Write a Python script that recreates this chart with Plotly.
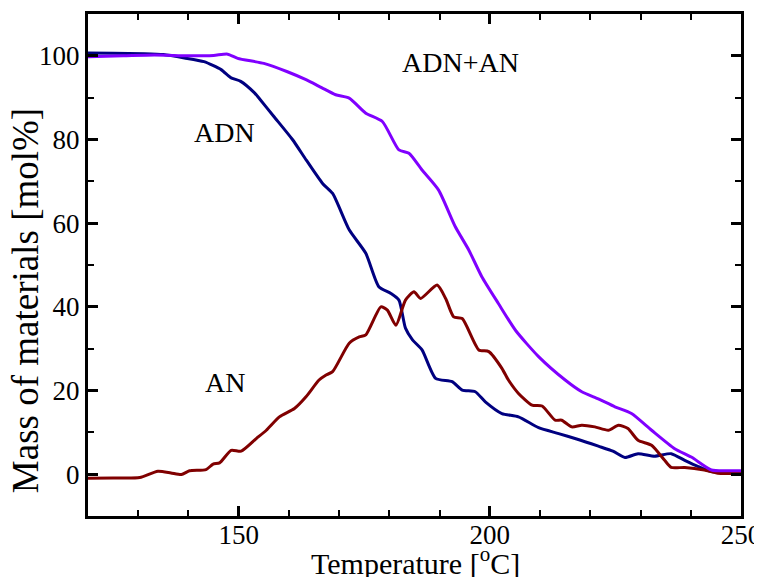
import plotly.graph_objects as go

# ADN
adn_t = [120, 125, 131.2, 135, 139.2, 143.1, 146.5, 148.4, 150.4, 153.1, 154.1, 157, 160.7, 163.5, 166.7, 168.7, 172, 175.3,
         177.9, 180.3, 181.9, 183.2, 184.6, 186.5, 189.2, 192.5, 194.5, 197.1, 199.1, 202.4, 205.7, 209.7, 213.7,
         217.6, 221.6, 224.5, 226.9, 229.5, 232.8, 236.1, 238.8, 241.5, 244.1, 247, 250]
adn_v = [100.7, 100.6, 100.5, 100.3, 99.5, 98.6, 96.7, 94.8, 93.9, 91.2, 89.8, 85.5, 80.0, 75.0, 69.5, 67.1, 58.4, 52.8,
         44.8, 43.2, 41.6, 34.9, 32.1, 29.7, 22.9, 22.1, 20.1, 19.7, 17.3, 14.5, 13.7, 11.1, 9.7,
         8.3, 6.7, 5.5, 4.0, 4.9, 4.3, 4.9, 3.3, 1.8, 0.6, 0.3, 0.2]

# AN
an_t = [120, 125, 130.3, 133.9, 136.5, 138.6, 140.2, 143.5, 144.9, 146.2, 148.5, 150.5, 153.5, 155.5, 158.1, 161.1,
        163.4, 166, 167.4, 168.7, 172, 174, 175.3, 178.3, 179.6, 181.3, 183.2, 184.9, 186.2, 189.5, 191.2,
        192.8, 194.5, 197.8, 199.8, 202.4, 203.7, 205.7, 208.4, 210.4, 213, 214.3, 216.3, 218.3, 220.9,
        223.6, 225.6, 227.5, 229.5, 232.2, 234.8, 236.1, 238.8, 242.7, 245.4, 250]
an_v = [-1.0, -0.9, -0.8, 0.7, 0.3, -0.1, 0.8, 1.1, 2.4, 2.7, 5.7, 5.5, 8.5, 10.5, 13.7, 15.7,
        18.5, 22.5, 23.7, 24.5, 31.3, 32.8, 33.3, 40.0, 39.2, 35.6, 41.6, 43.6, 42.0, 45.2, 42.0,
        37.6, 37.2, 29.7, 29.3, 25.3, 22.5, 19.3, 16.5, 16.3, 12.9, 12.9, 11.3, 11.7, 11.3,
        10.5, 11.7, 10.9, 8.1, 6.9, 3.3, 1.6, 1.6, 1.0, 0.2, 0.2]

# ADN+AN
mix_t = [120, 127, 133.2, 140, 145, 147.8, 149.8, 155, 159.7, 163.4, 166.5, 169.3, 172, 175.3, 178.6, 181.9, 183.9,
         186.5, 189.8, 193.1, 195.8, 198.4, 201.7, 205.1, 209.7, 215, 218.3, 221.6, 224.9, 228.2, 232.2,
         236.8, 240.1, 244.1, 247, 250]
mix_v = [99.8, 100.0, 100.2, 100.0, 100.1, 100.4, 99.4, 98.2, 96.2, 94.3, 92.4, 90.7, 89.9, 86.3, 84.3, 77.5, 76.7,
         72.7, 67.9, 59.2, 53.6, 47.2, 40.8, 34.4, 28.1, 22.5, 19.7, 18.0, 16.1, 14.5, 10.5,
         6.1, 4.1, 1.0, 0.8, 0.8]

x_ticks = [150, 200, 250]
y_ticks = [0, 20, 40, 60, 80, 100]

FONT = "Liberation Serif, Times New Roman, serif"

fig = go.Figure()
fig.add_trace(go.Scatter(x=adn_t, y=adn_v, mode="lines", name="ADN",
                         line=dict(color="#000080", width=3, shape="spline", smoothing=0.6)))
fig.add_trace(go.Scatter(x=an_t, y=an_v, mode="lines", name="AN",
                         line=dict(color="#800000", width=3, shape="spline", smoothing=0.6)))
fig.add_trace(go.Scatter(x=mix_t, y=mix_v, mode="lines", name="ADN+AN",
                         line=dict(color="#8000FF", width=3, shape="spline", smoothing=0.6)))

axis_common = dict(showgrid=False, zeroline=False, showline=True, linecolor="black", linewidth=3,
                   mirror="allticks", ticks="inside", ticklen=10, tickwidth=2.5, tickcolor="black",
                   automargin=False,
                   tickfont=dict(family=FONT, size=27, color="black"))

fig.update_xaxes(range=[120, 250], tickvals=x_ticks, ticktext=[str(v) for v in x_ticks],
                 ticklabelstandoff=-7,
                 minor=dict(ticks="inside", ticklen=6, tickwidth=2, dtick=10, tick0=120, tickcolor="black"),
                 **axis_common)
fig.update_yaxes(range=[-10, 110], tickvals=y_ticks, ticktext=[str(v) for v in y_ticks],
                 minor=dict(ticks="inside", ticklen=6, tickwidth=2, dtick=10, tick0=-10, tickcolor="black"),
                 **axis_common)

annots = [
    dict(x=194.2, y=98.3, text="ADN+AN"),
    dict(x=147.2, y=81.7, text="ADN"),
    dict(x=147.2, y=21.9, text="AN"),
]
for a in annots:
    fig.add_annotation(x=a["x"], y=a["y"], xref="x", yref="y", text=a["text"], showarrow=False,
                       font=dict(family=FONT, size=28, color="black"))

# axis titles
fig.add_annotation(x=0.502, y=-0.048, xref="paper", yref="paper", text="Temperature [<sup>o</sup>C]",
                   showarrow=False, xanchor="center", yanchor="top",
                   font=dict(family=FONT, size=30, color="black"))
fig.add_annotation(x=-0.0965, y=0.43, xref="paper", yref="paper", text="Mass of materials [mol%]",
                   textangle=-90, showarrow=False, xanchor="center", yanchor="middle",
                   font=dict(family=FONT, size=37, color="black"))

fig.update_layout(width=754, height=569, margin=dict(l=80, r=21, t=6, b=61, autoexpand=False),
                  plot_bgcolor="white", paper_bgcolor="white", showlegend=False)

fig.write_html("out.html")
